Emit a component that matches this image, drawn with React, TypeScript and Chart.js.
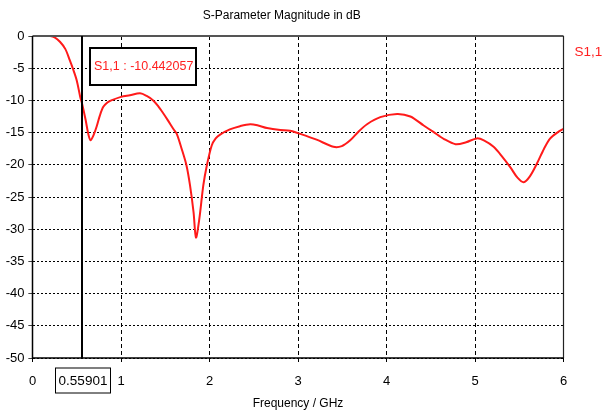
import { useEffect, useRef } from "react";
import { Chart, registerables } from "chart.js";

Chart.register(...registerables);

const FONT = '"Liberation Sans", Arial, sans-serif';

const titleText = "S-Parameter Magnitude in dB";
const xTitleText = "Frequency / GHz";
const seriesLabel = "S1,1";

const freqGHz = [
  0, 0.1, 0.2, 0.25, 0.31, 0.37, 0.42, 0.46, 0.5, 0.54, 0.559, 0.6, 0.63, 0.656, 0.69, 0.724, 0.76, 0.8,
  0.85, 0.89, 1.0, 1.1, 1.215, 1.29, 1.364, 1.42, 1.477, 1.53, 1.59, 1.63, 1.685, 1.74, 1.78, 1.82, 1.847,
  1.885, 1.93, 1.97, 2.025, 2.07, 2.12, 2.23, 2.345, 2.46, 2.55, 2.65, 2.8, 2.91, 3.025, 3.21, 3.4,
  3.495, 3.59, 3.68, 3.78, 3.93, 4.12, 4.27, 4.42, 4.53, 4.65, 4.78, 4.9, 5.02, 5.1, 5.21,
  5.3, 5.4, 5.48, 5.55, 5.62, 5.7, 5.78, 5.85, 5.93, 6.0,
];
const s11dB = [
  0, 0, 0, -0.2, -0.9, -2.0, -3.7, -5.2, -6.9, -9.5, -10.44, -13.0, -15.2, -16.2, -15.4, -14.1, -12.4, -11.0,
  -10.3, -10.0, -9.45, -9.2, -8.9, -9.3, -10.0, -10.9, -12.0, -13.1, -14.4, -15.2, -17.5, -20.1, -23.2, -27.4, -31.3,
  -28.4, -23.2, -20.1, -17.0, -15.9, -15.3, -14.5, -14.0, -13.7, -13.9, -14.3, -14.6, -14.7, -15.2, -16.1, -17.2,
  -17.1, -16.2, -14.9, -13.7, -12.6, -12.1, -12.5, -13.9, -14.9, -16.0, -16.8, -16.5, -15.9, -16.2, -17.2,
  -18.6, -20.4, -22.0, -22.7, -21.8, -19.8, -17.5, -15.9, -15.0, -14.4,
];

const xMin = 0;
const xMax = 6;
const xStep = 1;
const yMin = -50;
const yMax = 0;
const yStep = 5;

const markerFreq = 0.55901;
const markerValue = -10.442057;

const overlay = {
  id: "overlay",
  afterDraw(chart: any) {
    const { ctx, chartArea: a, scales } = chart;
    const x = scales.x;
    ctx.save();
    ctx.setLineDash([]);
    // frame
    ctx.strokeStyle = "#555";
    ctx.lineWidth = 2;
    ctx.beginPath();
    ctx.moveTo(a.left, a.top);
    ctx.lineTo(a.right, a.top);
    ctx.stroke();
    ctx.strokeStyle = "#222";
    ctx.lineWidth = 1.2;
    ctx.beginPath();
    ctx.moveTo(a.right, a.top);
    ctx.lineTo(a.right, a.bottom);
    ctx.stroke();
    ctx.strokeStyle = "#000";
    ctx.lineWidth = 1.5;
    ctx.beginPath();
    ctx.moveTo(a.left, a.top);
    ctx.lineTo(a.left, a.bottom);
    ctx.lineTo(a.right, a.bottom);
    ctx.stroke();

    // cursor line
    const cx = Math.round(x.getPixelForValue(markerFreq));
    ctx.strokeStyle = "#000";
    ctx.lineWidth = 2;
    ctx.beginPath();
    ctx.moveTo(cx, a.top);
    ctx.lineTo(cx, a.bottom);
    ctx.stroke();

    // marker value box
    const mText = `${seriesLabel} : ${markerValue.toFixed(6)}`;
    ctx.font = `12.5px ${FONT}`;
    const bx = cx + 8;
    const by = a.top + 12;
    const bw = 106;
    const bh = 37;
    ctx.fillStyle = "#fff";
    ctx.fillRect(bx, by, bw, bh);
    ctx.strokeStyle = "#000";
    ctx.lineWidth = 2;
    ctx.strokeRect(bx, by, bw, bh);
    ctx.fillStyle = "#ff2020";
    ctx.textAlign = "left";
    ctx.textBaseline = "middle";
    ctx.fillText(mText, bx + 4, by + 18.5);

    // cursor frequency box
    ctx.font = `13.5px ${FONT}`;
    const fText = markerFreq.toFixed(5);
    const fw = 55;
    const fh = 25;
    const fx = cx - 27;
    const fy = a.bottom + 9.5;
    ctx.fillStyle = "#fff";
    ctx.fillRect(fx, fy, fw, fh);
    ctx.strokeStyle = "#000";
    ctx.lineWidth = 1;
    ctx.strokeRect(fx + 0.5, fy + 0.5, fw, fh);
    ctx.fillStyle = "#000";
    ctx.textAlign = "center";
    ctx.fillText(fText, fx + fw / 2 + 0.5, fy + fh / 2 + 1);

    // legend text
    ctx.font = `13.5px ${FONT}`;
    ctx.fillStyle = "#ff2020";
    ctx.textAlign = "left";
    ctx.fillText(chart.data.datasets[0].label, a.right + 11, a.top + 16);
    ctx.restore();
  },
};

export default function App() {
  const ref = useRef<HTMLCanvasElement | null>(null);
  useEffect(() => {
    if (!ref.current) return;
    const points = freqGHz.map((f, i) => ({ x: f, y: s11dB[i] }));
    const chart = new Chart(ref.current, {
      type: "line",
      data: {
        datasets: [
          {
            label: seriesLabel,
            data: points,
            borderColor: "#ff1a1a",
            borderWidth: 2,
            pointRadius: 0,
            tension: 0.3,
            fill: false,
          },
        ],
      },
      options: {
        animation: false,
        responsive: false,
        maintainAspectRatio: false,
        devicePixelRatio: 1,
        layout: { padding: { left: 0, right: 38.5, top: 0, bottom: 0 } },
        plugins: {
          legend: { display: false },
          tooltip: { enabled: false },
          title: {
            display: true,
            text: titleText,
            color: "#000",
            font: { family: FONT, size: 12, weight: "normal" },
            padding: { top: 8.8, bottom: 12.8 },
          },
        },
        scales: {
          x: {
            type: "linear",
            min: xMin,
            max: xMax,
            afterFit: (s: any) => {
              s.height = 57;
            },
            ticks: {
              stepSize: xStep,
              color: "#000",
              padding: 12,
              maxRotation: 0,
              font: { family: FONT, size: 13 },
            },
            grid: {
              color: "#000",
              lineWidth: 1,
              tickLength: 4,
              tickBorderDash: [1, 0],
            },
            border: { display: false, dash: [4, 3] },
            title: {
              display: true,
              text: xTitleText,
              color: "#000",
              font: { family: FONT, size: 12 },
              padding: { top: 0, bottom: 3.8 },
            },
          },
          y: {
            type: "linear",
            min: yMin,
            max: yMax,
            afterFit: (s: any) => {
              s.width = 32.5;
            },
            ticks: {
              stepSize: yStep,
              color: "#000",
              padding: 4,
              font: { family: FONT, size: 13 },
            },
            grid: {
              color: "#000",
              lineWidth: 1,
              tickLength: 4,
              tickBorderDash: [1, 0],
            },
            border: { display: false, dash: [2, 2] },
          },
        },
      },
      plugins: [overlay],
    });
    return () => chart.destroy();
  }, []);
  return (
    <div style={{ position: "fixed", left: 0, top: 0, width: 602, height: 415, background: "#fff" }}>
      <canvas ref={ref} width={602} height={415} style={{ width: 602, height: 415 }} />
    </div>
  );
}
